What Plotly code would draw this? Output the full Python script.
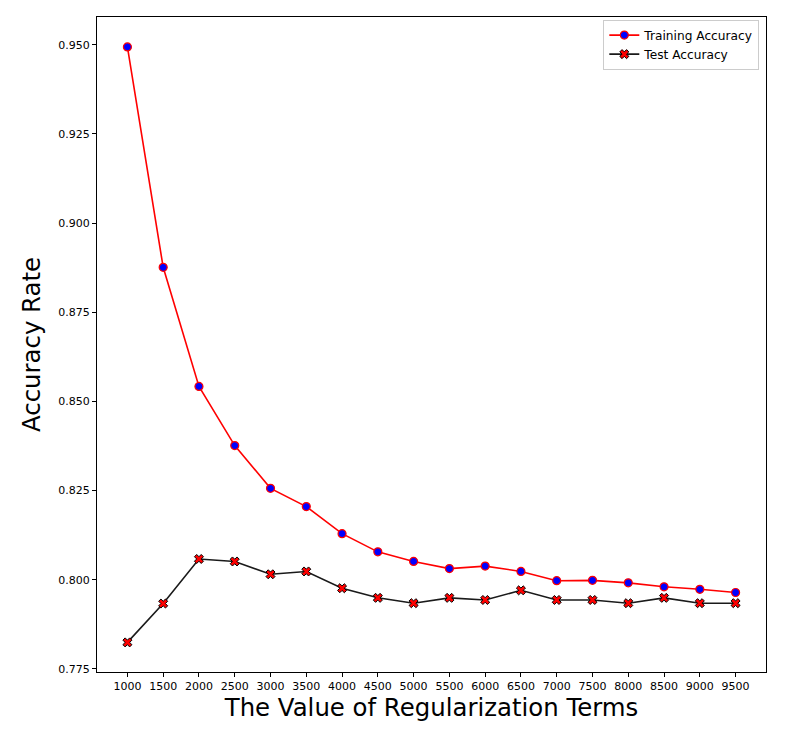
import plotly.graph_objects as go

reg_terms = [1000, 1500, 2000, 2500, 3000, 3500, 4000, 4500, 5000,
             5500, 6000, 6500, 7000, 7500, 8000, 8500, 9000, 9500]
train_acc = [0.9494, 0.8876, 0.8542, 0.8376, 0.8256, 0.8205, 0.8129, 0.8078, 0.8051,
             0.8031, 0.8038, 0.8023, 0.7997, 0.7998, 0.7991, 0.7980, 0.7973, 0.7964]
test_acc = [0.7824, 0.7933, 0.8058, 0.8051, 0.8015, 0.8023, 0.7976, 0.7949, 0.7934,
            0.7949, 0.7943, 0.7970, 0.7943, 0.7943, 0.7934, 0.7949, 0.7934, 0.7934]
y_ticks = [0.775, 0.800, 0.825, 0.850, 0.875, 0.900, 0.925, 0.950]

fig = go.Figure()
fig.add_trace(go.Scatter(
    x=reg_terms, y=train_acc, mode="lines+markers", name="Training Accuracy",
    line=dict(color="red", width=1.6),
    marker=dict(symbol="circle", size=8, color="blue", line=dict(color="red", width=1.2)),
))
fig.add_trace(go.Scatter(
    x=reg_terms, y=test_acc, mode="lines+markers", name="Test Accuracy",
    line=dict(color="#1a1a1a", width=1.6),
    marker=dict(symbol="x", size=8, color="red", line=dict(color="black", width=1)),
))

fig.update_layout(
    width=793, height=736,
    margin=dict(l=89, r=35, t=9, b=72),
    paper_bgcolor="white", plot_bgcolor="white",
    font=dict(family="DejaVu Sans", color="black", size=11),
    showlegend=True,
    legend=dict(x=0.99, y=0.996, xanchor="right", yanchor="top",
                bordercolor="#cccccc", borderwidth=1, bgcolor="rgba(255,255,255,0.8)",
                font=dict(size=12.2), tracegroupgap=0, itemwidth=30),
    xaxis=dict(
        range=[575, 9925], tickmode="array", tickvals=reg_terms,
        ticktext=[str(v) for v in reg_terms],
        showgrid=False, zeroline=False, showline=True, linecolor="black", linewidth=1,
        mirror=True, ticks="outside", ticklen=4, tickcolor="black",
        title=dict(text="The Value of Regularization Terms", font=dict(size=24.4), standoff=6),
    ),
    yaxis=dict(
        range=[0.7741, 0.9578], tickmode="array", tickvals=y_ticks,
        ticktext=[f"{v:.3f}" for v in y_ticks],
        showgrid=False, zeroline=False, showline=True, linecolor="black", linewidth=1,
        mirror=True, ticks="outside", ticklen=4, tickcolor="black",
        title=dict(text="Accuracy Rate", font=dict(size=24.4), standoff=10),
    ),
)

fig.write_html("out.html")
